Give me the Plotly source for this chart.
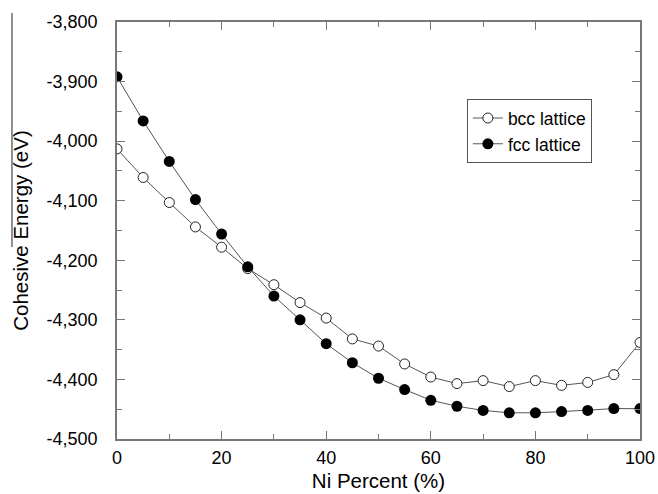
import plotly.graph_objects as go

ni_percent = [0, 5, 10, 15, 20, 25, 30, 35, 40, 45, 50, 55, 60, 65, 70, 75, 80, 85, 90, 95, 100]
bcc_energy = [-4013, -4061, -4103, -4144, -4178, -4214, -4241, -4271, -4297, -4332, -4344,
              -4374, -4396, -4407, -4402, -4412, -4402, -4410, -4405, -4392, -4338]
fcc_energy = [-3892, -3966, -4034, -4098, -4156, -4211, -4260, -4300, -4340, -4372, -4398,
              -4417, -4435, -4445, -4452, -4456, -4456, -4454, -4452, -4449, -4449]

y_tick_vals = [-4500, -4400, -4300, -4200, -4100, -4000, -3900, -3800]
y_tick_text = ["-4,500", "-4,400", "-4,300", "-4,200", "-4,100", "-4,000", "-3,900", "-3,800"]

FONT = "Liberation Sans, Arial, Helvetica, sans-serif"

fig = go.Figure()
fig.add_trace(go.Scatter(
    x=ni_percent, y=bcc_energy, name="bcc lattice", mode="lines+markers",
    line=dict(color="#555555", width=1),
    marker=dict(symbol="circle", size=10, color="white", line=dict(color="#222222", width=1)),
))
fig.add_trace(go.Scatter(
    x=ni_percent, y=fcc_energy, name="fcc lattice", mode="lines+markers",
    line=dict(color="#555555", width=1),
    marker=dict(symbol="circle", size=11, color="black", line=dict(color="black", width=0)),
))

axis_common = dict(
    showgrid=False, zeroline=False, showline=True, linecolor="#777777", linewidth=1.5,
    mirror="ticks", ticks="inside", tickcolor="#777777", tickwidth=1.2, ticklen=8,
    tickfont=dict(family=FONT, size=18, color="black"), automargin=False,
)

fig.update_xaxes(
    range=[0, 100], tick0=0, dtick=20,
    minor=dict(dtick=10, ticks="inside", ticklen=5, tickcolor="#777777", tickwidth=1.2),
    title=dict(text="Ni Percent (%)", font=dict(family=FONT, size=20.5, color="black"), standoff=6),
    ticklabelstandoff=2,
    **axis_common,
)
fig.update_yaxes(
    range=[-4500, -3800], tickmode="array", tickvals=y_tick_vals, ticktext=y_tick_text,
    minor=dict(dtick=50, tick0=-4500, ticks="inside", ticklen=5, tickcolor="#777777", tickwidth=1.2),
    title=dict(text="Cohesive Energy (eV)", font=dict(family=FONT, size=20.5, color="black"), standoff=12),
    ticklabelstandoff=14,
    **axis_common,
)

fig.update_layout(
    width=658, height=494,
    margin=dict(l=117, r=18, t=22, b=55),
    paper_bgcolor="white", plot_bgcolor="white",
    showlegend=True,
    legend=dict(
        x=0.669, y=0.815, xanchor="left", yanchor="top",
        bgcolor="white", bordercolor="#555555", borderwidth=1,
        font=dict(family=FONT, size=17.5, color="black"),
        tracegroupgap=0, itemwidth=30,
    ),
    shapes=[dict(type="line", xref="paper", yref="paper",
                 x0=-0.2008, x1=-0.2008, y0=1.0216, y1=0.4604,
                 line=dict(color="#222222", width=1))],
)

fig.write_html("out.html")
